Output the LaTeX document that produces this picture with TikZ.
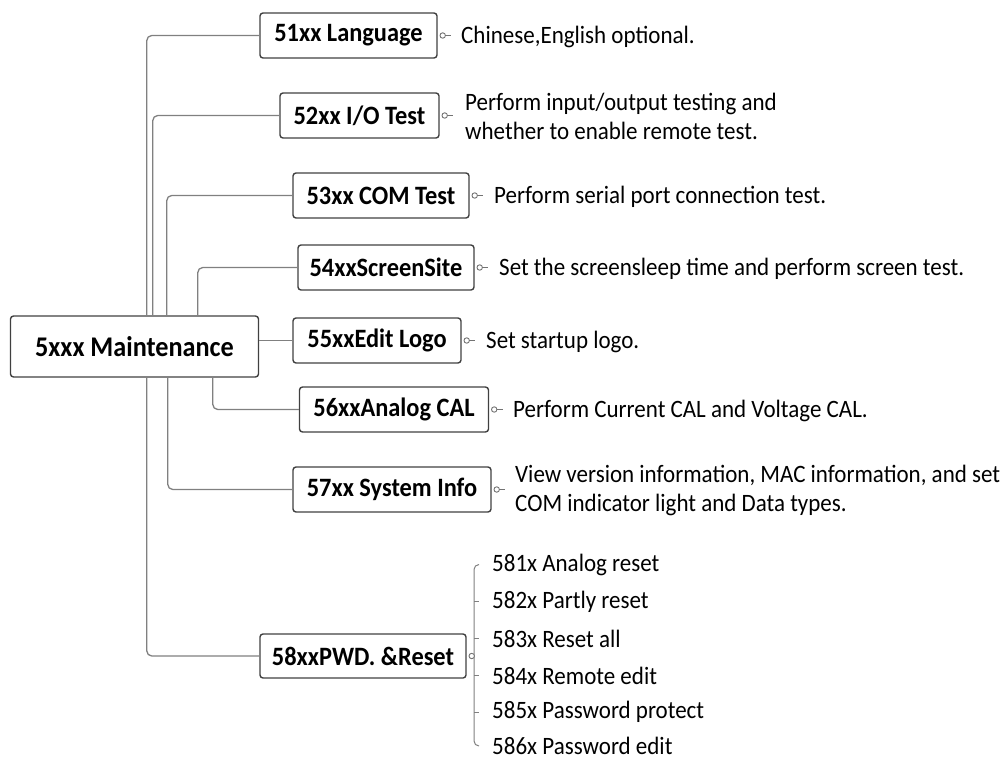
\documentclass[tikz,border=0pt]{standalone}
\usepackage{fontspec}
\setmainfont[FakeStretch=0.92]{Carlito}
\begin{document}
\begin{tikzpicture}[x=1pt,y=-1pt,
  box/.style={draw=black!75,line width=1.4pt,rounded corners=3pt,minimum height=45pt,inner sep=0pt,font=\fontsize{26.5}{28}\selectfont\bfseries},
  conn/.style={draw=black!50,line width=1.3pt,rounded corners=5pt},
  knob/.style={draw=black!55,line width=0.9pt,fill=white},
  desc/.style={anchor=west,inner sep=0pt,align=left,font=\fontsize{25}{29}\selectfont},
  child/.style={anchor=west,inner sep=0pt,font=\fontsize{25}{27}\selectfont}]
\useasboundingbox (0,0) rectangle (1003,759);

\node[box,minimum width=248pt,minimum height=61pt,font=\fontsize{28.5}{30}\selectfont\bfseries] (main) at (134.5,346.5) {5xxx Maintenance};

\node[box,minimum width=177pt] (L1) at (348.5,35.5) {51xx Language};
\node[box,minimum width=159pt] (L2) at (359.5,115.5) {52xx I/O Test};
\node[box,minimum width=176pt] (L3) at (381,195.5) {53xx COM Test};
\node[box,minimum width=176pt] (L4) at (386,267.5) {54xxScreenSite};
\node[box,minimum width=168pt] (L5) at (377,340.5) {55xxEdit Logo};
\node[box,minimum width=189pt] (L6) at (394,409.5) {56xxAnalog CAL};
\node[box,minimum width=198pt,minimum height=45pt] (L7) at (392,489.5) {57xx System Info};
\node[box,minimum width=206pt,minimum height=44pt] (L8) at (363,656) {58xxPWD. \&Reset};

% connectors
\draw[conn] ([xshift=137]main.north west) |- (L1.west);
\draw[conn] ([xshift=143]main.north west) |- (L2.west);
\draw[conn] ([xshift=157]main.north west) |- (L3.west);
\draw[conn] ([xshift=188]main.north west) |- (L4.west);
\draw[conn] (main.east |- L5.west) -- (L5.west);
\draw[conn] ([xshift=203]main.south west) |- (L6.west);
\draw[conn] ([xshift=158]main.south west) |- (L7.west);
\draw[conn] ([xshift=137]main.south west) |- (L8.west);

% descriptions
\node[desc] (d1) at (461,37) {Chinese,English optional.};
\node[desc] (d2) at (465,116.5) {Perform input/output testing and\\whether to enable remote test.};
\node[desc] (d3) at (494,197) {Perform serial port connection test.};
\node[desc] (d4) at (499,268.5) {Set the screensleep time and perform screen test.};
\node[desc] (d5) at (486,342) {Set startup logo.};
\node[desc] (d6) at (513,411) {Perform Current CAL and Voltage CAL.};
\node[desc] (d7) at (515,490.5) {View version information, MAC information, and set\\COM indicator light and Data types.};

% knobs
\foreach \n in {L1,L2,L3,L4,L5,L6,L7}{
  \draw[draw=black!55,line width=0.9pt] ([xshift=7.5]\n.east) -- ([xshift=13.5]\n.east);
  \draw[knob] ([xshift=5]\n.east) circle (2.7);
}

% children of 58xx
\node[child] (c1) at (492,564.5) {581x Analog reset};
\node[child] (c2) at (492,601.5) {582x Partly reset};
\node[child] (c3) at (492,638.5) {583x Reset all};
\node[child] (c4) at (492,675.5) {584x Remote edit};
\node[child] (c5) at (492,712) {585x Password protect};
\node[child] (c6) at (492,746) {586x Password edit};

\draw[conn,line width=1pt] ([xshift=-13]c1.west) -- ([xshift=-18]c1.west |- c1.west) |- ([xshift=-13]c6.west);
\foreach \c in {c2,c3,c4,c5}{
  \draw[draw=black!50,line width=1pt] ([xshift=-18]\c.west) -- ([xshift=-13]\c.west);
}
\draw[knob] ([xshift=5]L8.east) circle (2.7);
\end{tikzpicture}
\end{document}
